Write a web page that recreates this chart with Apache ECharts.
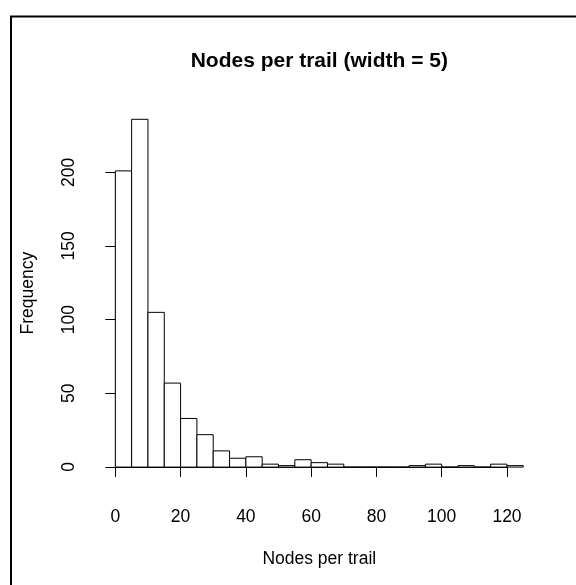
<!DOCTYPE html>
<html><head><meta charset="utf-8">
<script src="https://cdn.jsdelivr.net/npm/echarts@6/dist/echarts.min.js"></script>
<style>html,body{margin:0;padding:0;background:#fff}#c{width:576px;height:585px}</style>
</head><body><div id="c"></div>
<script>
const binStarts = [0,5,10,15,20,25,30,35,40,45,50,55,60,65,70,75,80,85,90,95,100,105,110,115,120];
const binWidth = 5;
const counts = [201,236,105,57,33,22,11,6,7,2,1,5,3,2,0,0,0,0,1,2,0,1,0,2,1];
const xTicks = [0,20,40,60,80,100,120];
const yTicks = [0,50,100,150,200];
const titleText = 'Nodes per trail (width = 5)';
const xName = 'Nodes per trail';
const yName = 'Frequency';

const FONT = 'Liberation Sans, Arial, sans-serif';
const FS = 17.5;
const chart = echarts.init(document.getElementById('c'));
const data = binStarts.map((s, i) => [s, s + binWidth, counts[i]]);

chart.setOption({
  animation: false,
  backgroundColor: '#fff',
  title: {
    text: titleText, left: 319.3, top: 51, textAlign: 'center', padding: 0,
    textStyle: { fontFamily: FONT, fontSize: 21, fontWeight: 'bold', color: '#000' }
  },
  graphic: [{
    type: 'polyline', silent: true,
    shape: { points: [[11, 585], [11, 16.5], [576, 16.5]] },
    style: { stroke: '#000', lineWidth: 2, fill: null }
  }],
  grid: [
    { left: 99, right: 36.4, top: 105.4, bottom: 104 },
    { left: 115.3, right: 69, top: 172.3, bottom: 118 }
  ],
  xAxis: [
    { gridIndex: 0, type: 'value', min: -5, max: 130,
      axisLine: { show: false }, axisTick: { show: false }, axisLabel: { show: false }, splitLine: { show: false },
      name: xName, nameLocation: 'middle', nameGap: 69,
      nameTextStyle: { fontSize: FS, color: '#000', fontFamily: FONT } },
    { gridIndex: 1, type: 'value', min: xTicks[0], max: xTicks[xTicks.length - 1], interval: 20, offset: 14,
      axisLine: { show: true, lineStyle: { color: '#000', width: 1 } },
      axisTick: { show: true, length: 10, lineStyle: { color: '#000' } },
      axisLabel: { margin: 27, fontSize: FS, color: '#000', fontFamily: FONT },
      splitLine: { show: false } }
  ],
  yAxis: [
    { gridIndex: 0, type: 'value', min: -9.44, max: 245.44,
      axisLine: { show: false }, axisTick: { show: false }, axisLabel: { show: false }, splitLine: { show: false },
      name: yName, nameLocation: 'middle', nameGap: 62,
      nameTextStyle: { fontSize: FS, color: '#000', fontFamily: FONT } },
    { gridIndex: 1, type: 'value', min: yTicks[0], max: yTicks[yTicks.length - 1], interval: 50, offset: 16,
      axisLine: { show: true, lineStyle: { color: '#000', width: 1 } },
      axisTick: { show: true, length: 10, lineStyle: { color: '#000' } },
      axisLabel: { margin: 21, rotate: 90, fontSize: FS, color: '#000', fontFamily: FONT },
      splitLine: { show: false } }
  ],
  series: [{
    type: 'custom', xAxisIndex: 0, yAxisIndex: 0,
    encode: { x: [0, 1], y: 2 },
    data: data,
    renderItem: function (params, api) {
      const p0 = api.coord([api.value(0), 0]);
      const p1 = api.coord([api.value(1), api.value(2)]);
      return {
        type: 'rect',
        shape: { x: p0[0], y: p1[1], width: p1[0] - p0[0], height: p0[1] - p1[1] },
        style: { fill: '#fff', stroke: '#000', lineWidth: 1 }
      };
    }
  }]
});
</script></body></html>
